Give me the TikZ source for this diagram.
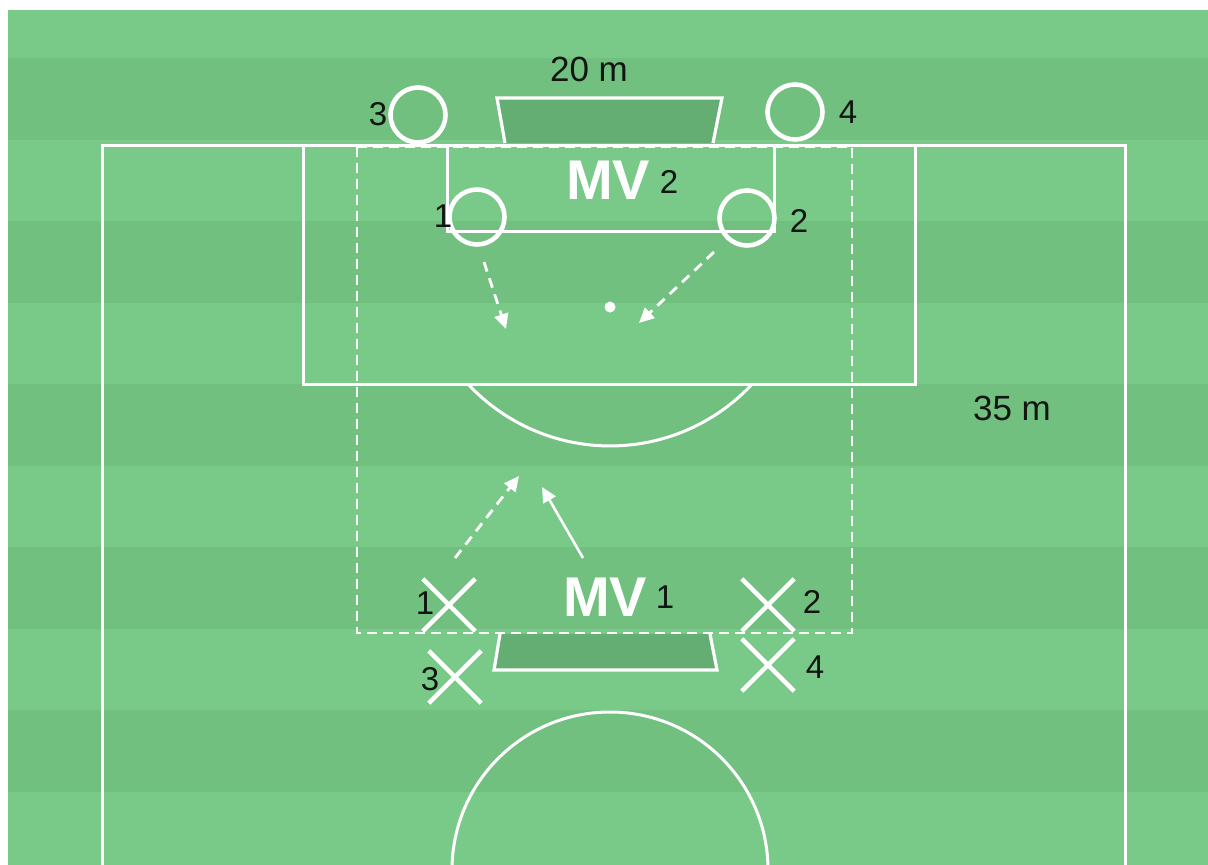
\documentclass[tikz,border=0pt]{standalone}
\usepackage{fontspec}
\setmainfont{Liberation Sans}
\usetikzlibrary{arrows.meta,shapes.misc}
\definecolor{grassL}{RGB}{121,202,137}
\definecolor{grassD}{RGB}{113,192,128}
\definecolor{goalfill}{RGB}{100,174,116}
\definecolor{labelc}{RGB}{18,22,18}
\begin{document}
\begin{tikzpicture}[x=1pt,y=-1pt,
  pitchline/.style={draw=white, line width=3pt},
  zonebox/.style={draw=white, line width=2.6pt, dash pattern=on 10pt off 6pt},
  goalbox/.style={fill=goalfill, draw=white, line width=3.2pt},
  defender/.style={circle, draw=white, line width=4.6pt, minimum size=55pt, inner sep=0pt},
  attacker/.style={cross out, draw=white, line width=4.4pt, minimum size=48pt, inner sep=0pt},
  lbl/.style={text=labelc, inner sep=0pt, font=\fontsize{33}{36}\selectfont},
  dist/.style={text=labelc, inner sep=0pt, font=\fontsize{35}{38}\selectfont},
  team/.style={text=white, inner sep=0pt, font=\fontsize{56}{60}\selectfont\bfseries},
  runarrow/.style={draw=white, line width=2.8pt, dash pattern=on 10pt off 7pt, -{Triangle[length=15pt,width=14pt]}},
  passarrow/.style={draw=white, line width=2.6pt, -{Triangle[length=15pt,width=14pt]}},
  spotdot/.style={circle, fill=white, minimum size=11pt, inner sep=0pt}]
\useasboundingbox (0,0) rectangle (1208,865);
\fill[white] (0,0) rectangle (1208,865);
\begin{scope}
\clip (0,0) rectangle (1208,865);
\fill[grassL] (8,10) rectangle (1208,865);
\foreach \yy in {58,221,384,547,710} \fill[grassD] (8,\yy) rectangle (1208,\yy+82);
% pitch
\draw[pitchline] (102,870) -- (102,145) -- (1125,145) -- (1125,870);
\draw[pitchline] (303,145) rectangle (915,384);
\draw[pitchline] (447,145) rectangle (774,231);
\draw[pitchline] (468,384) arc[start angle=137.1, end angle=42.9, radius=194];
\draw[pitchline] (610,870) circle[radius=158];
% goals
\filldraw[goalbox] (505,143) -- (497,98) -- (722,98) -- (713,143);
\filldraw[goalbox] (500,634) -- (494,670) -- (717,670) -- (710,634);
% zone
\draw[zonebox] (357,147) rectangle (852,633);
\end{scope}
% penalty spot
\node[spotdot] (spot) at (610,307) {};
% defenders
\node[defender] (d3) at (418,115) {};
\node[defender] (d4) at (795,112) {};
\node[defender] (d1) at (477,217) {};
\node[defender] (d2) at (747,218) {};
\node[lbl] (ld3) at (378,114) {3};
\node[lbl] (ld4) at (848,112) {4};
\node[lbl] (ld1) at (443,216) {1};
\node[lbl] (ld2) at (799,221) {2};
% attackers
\node[attacker] (a1) at (449,605) {};
\node[attacker] (a3) at (455,677) {};
\node[attacker] (a2) at (768,605) {};
\node[attacker] (a4) at (768,665) {};
\node[lbl] (la1) at (425,603) {1};
\node[lbl] (la3) at (430,679) {3};
\node[lbl] (la2) at (812,602) {2};
\node[lbl] (la4) at (815,667) {4};
% team labels
\node[team] (mv2) at (608,180) {MV};
\node[lbl] (mv2n) at (669,182) {2};
\node[team] (mv1) at (605,597) {MV};
\node[lbl] (mv1n) at (665,597) {1};
% distances
\node[dist] (w20) at (589,69) {20 m};
\node[dist] (h35) at (1012,408) {35 m};
% arrows
\coordinate (r1s) at (484,262);
\coordinate (r1e) at (506,329);
\coordinate (r2s) at (714,252);
\coordinate (r2e) at (639,323);
\coordinate (r3s) at (455,558);
\coordinate (r3e) at (519,476);
\coordinate (p1s) at (583,558);
\coordinate (p1e) at (542,487);
\draw[runarrow] (r1s) -- (r1e);
\draw[runarrow] (r2s) -- (r2e);
\draw[runarrow] (r3s) -- (r3e);
\draw[passarrow] (p1s) -- (p1e);
\end{tikzpicture}
\end{document}
